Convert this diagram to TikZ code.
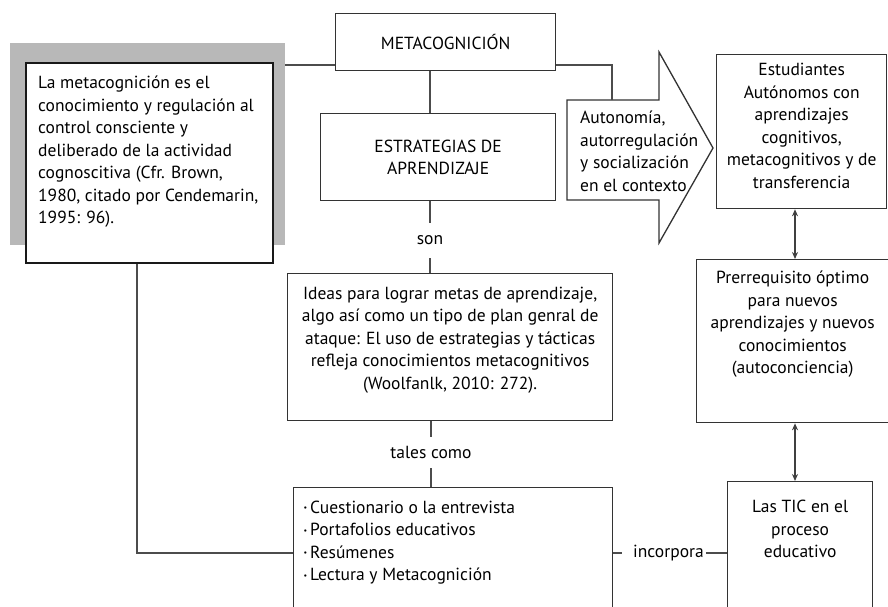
\documentclass[tikz,border=0pt]{standalone}
\usepackage{fontspec}
\setmainfont{PT Sans}
\usepackage{tikz}
\usetikzlibrary{arrows.meta, positioning, calc}

% width, height, inner position, top pad, text
\newcommand{\boxtext}[5]{\begin{minipage}[c][#2][#3]{#1}\vspace*{#4}#5\end{minipage}}
\newcommand{\punto}{\raisebox{2.5pt}{\fontsize{8}{8}\selectfont\textbullet}\,}

\begin{document}
\begin{tikzpicture}[x=1pt, y=-1pt, font=\fontsize{17.5}{22.5}\selectfont]
\tikzstyle{box}=[draw=black!80, line width=1.3pt, inner sep=0pt, anchor=north west, text=black]
\tikzstyle{lbl}=[inner sep=0pt, text=black]
\tikzstyle{connect}=[-, line width=1.1pt, draw=black!70]
\tikzstyle{both}=[{Stealth[length=7pt,width=6pt]}-{Stealth[length=7pt,width=6pt]}, line width=1.1pt, draw=black!75]
\useasboundingbox (0,0) rectangle (888,607);
\clip (0,0) rectangle (888,607);

\node[box] (meta) at (335,13) {\boxtext{220pt}{57pt}{c}{0pt}{\centering METACOGNICIÓN}};
\node[box] (estr) at (320,113) {\boxtext{235pt}{87pt}{c}{0pt}{\centering ESTRATEGIAS DE\\APRENDIZAJE}};
\node[lbl, minimum height=35pt] (son) at (430,240.5) {son};
\node[box] (ideas) at (287,273) {\boxtext{325pt}{147pt}{t}{13pt}{\centering Ideas para lograr metas de aprendizaje,\\algo así como un tipo de plan genral de\\ataque: El uso de estrategias y tácticas\\refleja conocimientos metacognitivos\\(Woolfanlk, 2010: 272).}};
\node[lbl, minimum height=31pt] (tales) at (431,452.5) {tales como};
\node[box] (lista) at (293,487) {\boxtext{319pt}{150pt}{t}{13pt}{\raggedright\leftskip=10pt \punto Cuestionario o la entrevista\\\punto Portafolios educativos\\\punto Resúmenes\\\punto Lectura y Metacognición}};

% left definition box with its grey shadow
\coordinate (leftne) at (272,65);
\draw[connect] (leftne) -- (meta.west |- leftne);
\fill[black!28] (10,43) rectangle (285,245);
\node[box, draw=black!90, line width=2.4pt, fill=white] (left) at (25,62) {\boxtext{247pt}{200pt}{t}{13pt}{\raggedright\leftskip=12pt La metacognición es el\\conocimiento y regulación al\\control consciente y\\deliberado de la actividad\\cognoscitiva (Cfr. Brown,\\1980, citado por Cendemarin,\\1995: 96).}};

% big arrow
\draw[line width=1.3pt, draw=black!80, fill=white] (567,100) -- (659,100) -- (659,52) -- (713,148) -- (659,243) -- (659,200) -- (567,200) -- cycle;
\node[lbl, anchor=north west] (auto) at (580,100) {\boxtext{130pt}{100pt}{t}{11pt}{\raggedright Autonomía,\\autorregulación\\y socialización\\en el contexto}};
\coordinate (autotop) at (612,100);

\node[box] (estud) at (716,54) {\boxtext{170pt}{154pt}{t}{8.5pt}{\centering Estudiantes\\Autónomos con\\aprendizajes\\cognitivos,\\metacognitivos y de\\transferencia}};
\node[box] (prer) at (696,259) {\boxtext{192pt}{163pt}{t}{11.5pt}{\centering Prerrequisito óptimo\\para nuevos\\aprendizajes y nuevos\\conocimientos\\(autoconciencia)}};
\node[box] (tic) at (727,481) {\boxtext{145pt}{150pt}{t}{18.5pt}{\centering Las TIC en el\\proceso\\educativo}};
\node[lbl, anchor=west] (incorp) at (622,553) {\hspace*{11pt}incorpora\hspace*{2pt}};

% connectors
\draw[connect] (meta.south -| son) -- (estr.north -| son);
\draw[connect] (estr.south -| son) -- (son.north);
\draw[connect] (son.south) -- (ideas.north -| son);
\draw[connect] (ideas.south -| tales) -- (tales.north);
\draw[connect] (tales.south) -- (lista.north -| tales);
\draw[connect] (meta.east |- leftne) -| (autotop);
\draw[connect] (left.south -| 137,0) |- (lista.west |- incorp);
\draw[connect] (lista.east |- incorp) -- (incorp.west);
\draw[connect] (incorp.east) -- (tic.west |- incorp);
\draw[both] (estud.south -| 795,0) -- (prer.north -| 795,0);
\draw[both] (prer.south -| 795,0) -- (tic.north -| 795,0);
\end{tikzpicture}
\end{document}
